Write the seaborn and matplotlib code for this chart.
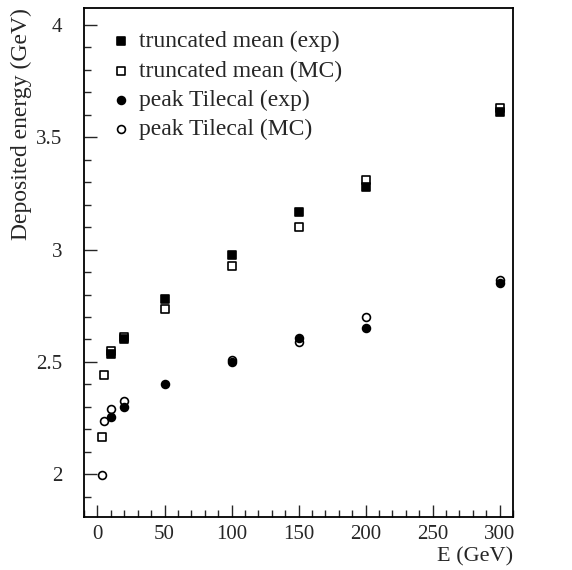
import matplotlib
matplotlib.use("Agg")
import matplotlib.pyplot as plt
from matplotlib.ticker import MultipleLocator
import seaborn as sns
import pandas as pd

# beam energies (GeV) and deposited energy (GeV) for each series
E_trunc_exp = [10, 20, 50, 100, 150, 200, 300]
trunc_exp = [2.535, 2.600, 2.778, 2.975, 3.165, 3.280, 3.610]

E_trunc_mc = [3, 5, 10, 20, 50, 100, 150, 200, 300]
trunc_mc = [2.167, 2.441, 2.548, 2.612, 2.735, 2.928, 3.100, 3.310, 3.630]

E_peak_exp = [10, 20, 50, 100, 150, 200, 300]
peak_exp = [2.253, 2.298, 2.400, 2.500, 2.605, 2.650, 2.850]

E_peak_mc = [3, 5, 10, 20, 100, 150, 200, 300]
peak_mc = [1.997, 2.238, 2.292, 2.328, 2.507, 2.588, 2.700, 2.865]

labels = ["truncated mean (exp)", "truncated mean (MC)",
          "peak Tilecal (exp)", "peak Tilecal (MC)"]

sns.set_style("ticks")
plt.rcParams["font.family"] = ["Liberation Serif", "DejaVu Serif"]

fig = plt.figure(figsize=(5.72, 5.70), dpi=100)
ax = fig.add_axes([0.147, 0.093, 0.750, 0.893])

series = [
    (E_trunc_exp, trunc_exp, "s", "black", labels[0]),
    (E_trunc_mc, trunc_mc, "s", "white", labels[1]),
    (E_peak_exp, peak_exp, "o", "black", labels[2]),
    (E_peak_mc, peak_mc, "o", "white", labels[3]),
]
# open markers first so the filled ones sit on top
for order in (1, 3, 0, 2):
    x, y, m, fc, lab = series[order]
    df = pd.DataFrame({"E": x, "dep": y})
    sns.scatterplot(data=df, x="E", y="dep", marker=m, s=32, color=fc,
                    edgecolor="black", linewidth=1.2, ax=ax, label=lab,
                    zorder=3 if fc == "black" else 2)

h, l = ax.get_legend_handles_labels()
hl = dict(zip(l, h))
ax.legend([hl[k] for k in labels], labels, loc="upper left",
          frameon=False, fontsize=17, handlelength=0.8, handletextpad=0.35,
          labelspacing=0.33, borderpad=0, borderaxespad=0,
          bbox_to_anchor=(0.065, 0.955), markerscale=1.0)

ax.set_xlim(-10, 310)
ax.set_ylim(1.81, 4.075)
ax.xaxis.set_major_locator(MultipleLocator(50))
ax.xaxis.set_minor_locator(MultipleLocator(10))
ax.yaxis.set_major_locator(MultipleLocator(0.5))
ax.yaxis.set_minor_locator(MultipleLocator(0.1))
ax.yaxis.set_major_formatter(plt.FuncFormatter(lambda v, p: f"{v:g}"))

ax.tick_params(which="both", direction="in", top=False, right=False,
               labelsize=15, width=1.0)
ax.tick_params(which="major", length=9)
ax.tick_params(which="minor", length=5)
ax.tick_params(axis="y", pad=15.5)
ax.tick_params(axis="x", pad=6)

for sp in ax.spines.values():
    sp.set_visible(True)
    sp.set_linewidth(1.3)
    sp.set_color("black")

ax.set_xlabel("E (GeV)", loc="right", fontsize=16, labelpad=2)
ax.set_ylabel("Deposited energy (GeV)", loc="top", fontsize=17, labelpad=3)

fig.savefig("out.png", dpi=100)
